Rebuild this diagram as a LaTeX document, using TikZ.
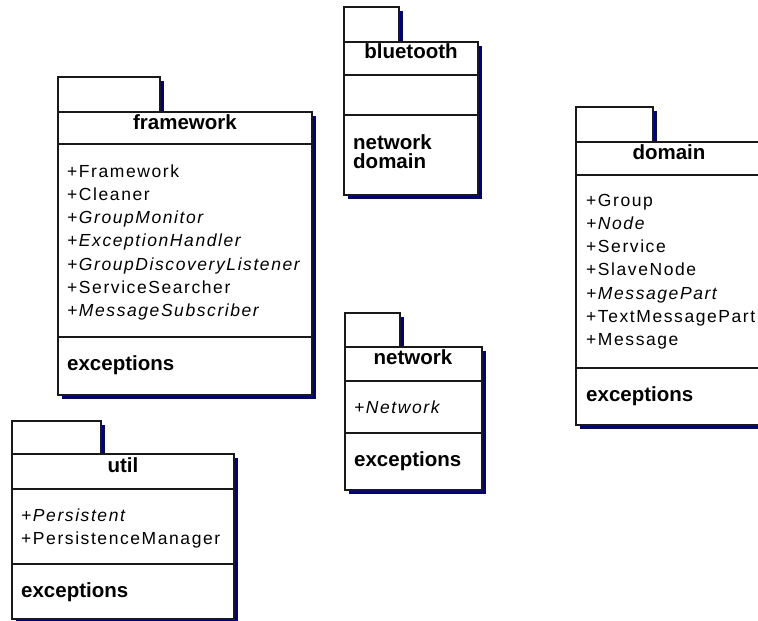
\documentclass[tikz,border=0pt]{standalone}
\usepackage{fontspec}
\setmainfont{Liberation Sans}
\newfontfamily\memberfont[LetterSpace=9]{Liberation Sans}

\definecolor{pkgshadow}{RGB}{0,0,128}
\definecolor{pkgline}{RGB}{25,25,25}

\tikzset{
  x=1pt, y=-1pt,
  pkgbox/.style={fill=white, draw=pkgline, line width=1.2pt},
  divider/.style={draw=pkgline, line width=1.2pt},
  pkgtitle/.style={anchor=base, inner sep=0pt,
    font=\fontsize{20.5}{20.5}\selectfont\bfseries},
  member/.style={anchor=base west, inner sep=0pt,
    font=\memberfont\fontsize{17.5}{20}\selectfont},
  subpkg/.style={anchor=base west, inner sep=0pt,
    font=\fontsize{20.5}{20.5}\selectfont\bfseries},
}

% UML package frame: left, tab right, tab top, body top, right, bottom
\newcommand\pkgframe[6]{%
  \fill[pkgshadow] (#1+4,#3+4) rectangle (#2+4,#4+4);
  \fill[pkgshadow] (#1+4,#4+4) rectangle (#5+4,#6+4);
  \draw[pkgbox] (#1,#3) rectangle (#2,#4);
  \draw[pkgbox] (#1,#4) rectangle (#5,#6);
}

\begin{document}
\begin{tikzpicture}
\path[use as bounding box, clip] (0,0) rectangle (758,621);
\fill[white] (0,0) rectangle (758,621);

% ---- framework ----
\pkgframe{58}{160}{77}{112}{312}{395}
\draw[divider] (58,144) -- (312,144);
\draw[divider] (58,337) -- (312,337);
\node[pkgtitle] (fwTitle) at (185,129) {framework};
\foreach \txt [count=\i from 0] in {+Framework, +Cleaner, \textit{+GroupMonitor},
    \textit{+ExceptionHandler}, \textit{+GroupDiscoveryListener},
    +ServiceSearcher, \textit{+MessageSubscriber}}
  \node[member] (fw-\i) at (67,177+\i*23.3) {\txt};
\node[subpkg] (fwExc) at (67,370) {exceptions};

% ---- bluetooth ----
\pkgframe{344}{399}{7}{42}{478}{195}
\draw[divider] (344,75) -- (478,75);
\draw[divider] (344,115) -- (478,115);
\node[pkgtitle] (btTitle) at (411,58) {bluetooth};
\node[subpkg] (btNet) at (353,149) {network};
\node[subpkg] (btDom) at (353,168) {domain};

% ---- domain ----
\pkgframe{576}{653}{107}{142}{762}{425}
\draw[divider] (576,175) -- (762,175);
\draw[divider] (576,368) -- (762,368);
\node[pkgtitle] (dmTitle) at (669,159) {domain};
\foreach \txt [count=\i from 0] in {+Group, \textit{+Node}, +Service, +SlaveNode,
    \textit{+MessagePart}, +TextMessagePart, +Message}
  \node[member] (dm-\i) at (586,206+\i*23.3) {\txt};
\node[subpkg] (dmExc) at (586,401) {exceptions};

% ---- network ----
\pkgframe{345}{400}{313}{347}{482}{490}
\draw[divider] (345,381) -- (482,381);
\draw[divider] (345,433) -- (482,433);
\node[pkgtitle] (nwTitle) at (413,364) {network};
\node[member] (nw-0) at (354,413) {\textit{+Network}};
\node[subpkg] (nwExc) at (354,466) {exceptions};

% ---- util ----
\pkgframe{12}{101}{421}{454}{234}{619}
\draw[divider] (12,489) -- (234,489);
\draw[divider] (12,564) -- (234,564);
\node[pkgtitle] (utTitle) at (123,472) {util};
\node[member] (ut-0) at (21,521) {\textit{+Persistent}};
\node[member] (ut-1) at (21,544) {+PersistenceManager};
\node[subpkg] (utExc) at (21,597) {exceptions};
\end{tikzpicture}
\end{document}
